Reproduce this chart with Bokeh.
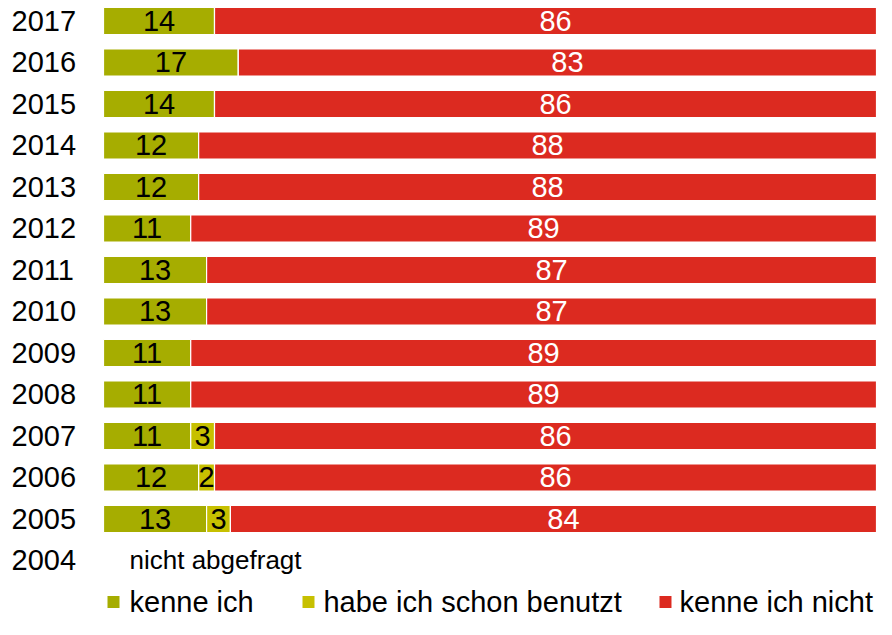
import numpy as np
from bokeh.plotting import figure
from bokeh.models import ColumnDataSource, Range1d
from bokeh.core.properties import value
from bokeh.embed import file_html
from bokeh.resources import INLINE

# ---- data ----
years = ["2017", "2016", "2015", "2014", "2013", "2012", "2011", "2010",
         "2009", "2008", "2007", "2006", "2005"]
kenne_ich = [14, 17, 14, 12, 12, 11, 13, 13, 11, 11, 11, 12, 13]
schon_benutzt = [0, 0, 0, 0, 0, 0, 0, 0, 0, 0, 3, 2, 3]
kenne_ich_nicht = [86, 83, 86, 88, 88, 89, 87, 87, 89, 89, 86, 86, 84]
missing_year = "2004"
missing_text = "nicht abgefragt"
series_names = ["kenne ich", "habe ich schon benutzt", "kenne ich nicht"]
colors = ["#a6ad00", "#c7c000", "#dc2a20"]

FONT = value("Liberation Sans")

n = len(years)
ypos = np.arange(n, 0, -1).astype(float)  # 2017 -> 13 ... 2005 -> 1
k = np.array(kenne_ich, float)
b = np.array(schon_benutzt, float)
m = np.array(kenne_ich_nicht, float)

p = figure(width=876, height=619, output_backend="svg", toolbar_location=None,
           x_range=Range1d(-12.99, 97.48), y_range=Range1d(-1.422, 13.494),
           min_border=0, outline_line_color=None)
p.axis.visible = False
p.xgrid.visible = False
p.ygrid.visible = False
p.background_fill_color = "white"
p.border_fill_color = "white"

src = ColumnDataSource(dict(y=ypos, k=k, b=b, m=m,
                            k_end=k, b_end=k + b, m_end=k + b + m))
H = 0.65
p.hbar(y="y", left=0, right="k_end", height=H, source=src,
       fill_color=colors[0], line_color="white", line_width=1.2)
p.hbar(y="y", left="k_end", right="b_end", height=H, source=src,
       fill_color=colors[1], line_color="white", line_width=1.2)
p.hbar(y="y", left="b_end", right="m_end", height=H, source=src,
       fill_color=colors[2], line_color="white", line_width=1.2)

LBL = "29px"
# value labels
lab_k = ColumnDataSource(dict(x=k / 2, y=ypos, t=[str(int(v)) for v in k]))
p.text(x="x", y="y", text="t", source=lab_k, text_font=FONT,
       text_font_size=LBL, text_align="center", text_baseline="middle",
       text_color="black")
mask = b > 0
lab_b = ColumnDataSource(dict(x=(k + b / 2)[mask], y=ypos[mask],
                              t=[str(int(v)) for v in b[mask]]))
p.text(x="x", y="y", text="t", source=lab_b, text_font=FONT,
       text_font_size=LBL, text_align="center", text_baseline="middle",
       text_color="black")
lab_m = ColumnDataSource(dict(x=k + b + m / 2, y=ypos, t=[str(int(v)) for v in m]))
p.text(x="x", y="y", text="t", source=lab_m, text_font=FONT,
       text_font_size=LBL, text_align="center", text_baseline="middle",
       text_color="white")

# year labels
all_years = years + [missing_year]
all_y = list(ypos) + [0.0]
p.text(x=[-11.6] * len(all_years), y=all_y, text=all_years, text_font=FONT,
       text_font_size=LBL, text_align="left", text_baseline="middle",
       text_color="black")
p.text(x=[3.28], y=[0.0], text=[missing_text], text_font=FONT,
       text_font_size="26px", text_align="left", text_baseline="middle",
       text_color="black")

# legend
leg_y = -1.0
sq_x = [1.26, 25.85, 70.87]
tx_x = [3.28, 27.74, 72.64]
p.scatter(x=sq_x, y=[leg_y] * 3, marker="square", size=12,
          fill_color=colors, line_color=None)
p.text(x=tx_x, y=[leg_y] * 3, text=series_names, text_font=FONT,
       text_font_size="29px", text_align="left", text_baseline="middle",
       text_color="black")

open("out.html", "w").write(file_html(p, INLINE))
